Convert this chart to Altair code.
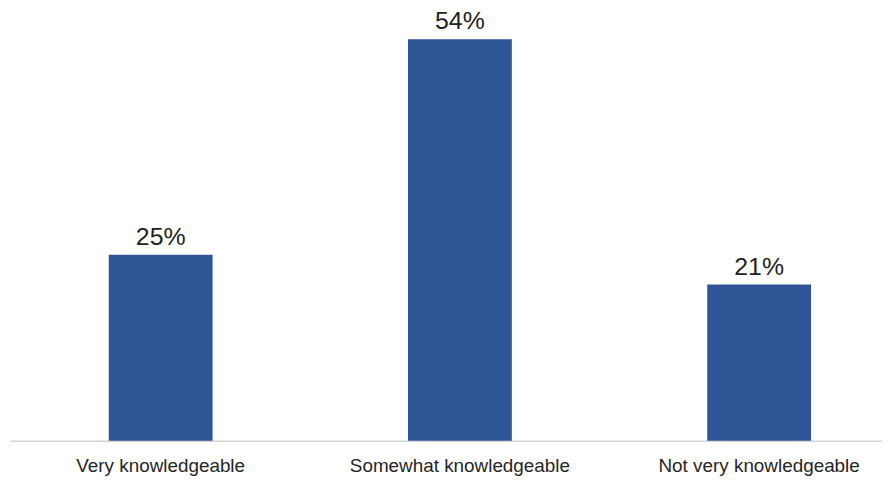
import altair as alt
import pandas as pd

categories = ["Very knowledgeable", "Somewhat knowledgeable", "Not very knowledgeable"]
values = [25, 54, 21]
labels = ["25%", "54%", "21%"]

df = pd.DataFrame({"cat": categories, "val": values, "lab": labels})

x_enc = alt.X(
    "cat:N",
    sort=categories,
    title=None,
    scale=alt.Scale(paddingInner=0.653, paddingOuter=0.33, range=[0, 906]),
    axis=alt.Axis(
        labelAngle=0,
        labelFont="Liberation Sans",
        labelFontSize=19,
        labelColor="#262626",
        labelBaseline="alphabetic",
        labelPadding=31,
        ticks=False,
        tickSize=0,
        domainColor="#d4d4d4",
        domainWidth=1.5,
        grid=False,
        labelOverlap=False,
        labelLimit=0,
    ),
)
y_enc = alt.Y("val:Q", scale=alt.Scale(domain=[0, 58], nice=False), axis=None)

bars = alt.Chart(df).mark_bar(color="#2F5597").encode(x=x_enc, y=y_enc)
text = alt.Chart(df).mark_text(
    font="Liberation Sans", fontSize=25, color="#222222", baseline="alphabetic", dy=-10
).encode(x=x_enc, y=y_enc, text="lab:N")

chart = (
    alt.layer(bars, text, view=alt.ViewBackground(strokeWidth=0, strokeOpacity=0, stroke="white"))
    .properties(
        width=878,
        height=434,
        padding={"left": 2, "top": 0, "right": 0, "bottom": 38},
        autosize=alt.AutoSizeParams(type="none"),
    )
    .configure_view(strokeWidth=0, strokeOpacity=0, stroke="white")
    .configure(background="white")
)

chart.save("out.html", embed_options={"renderer": "svg", "actions": False})
